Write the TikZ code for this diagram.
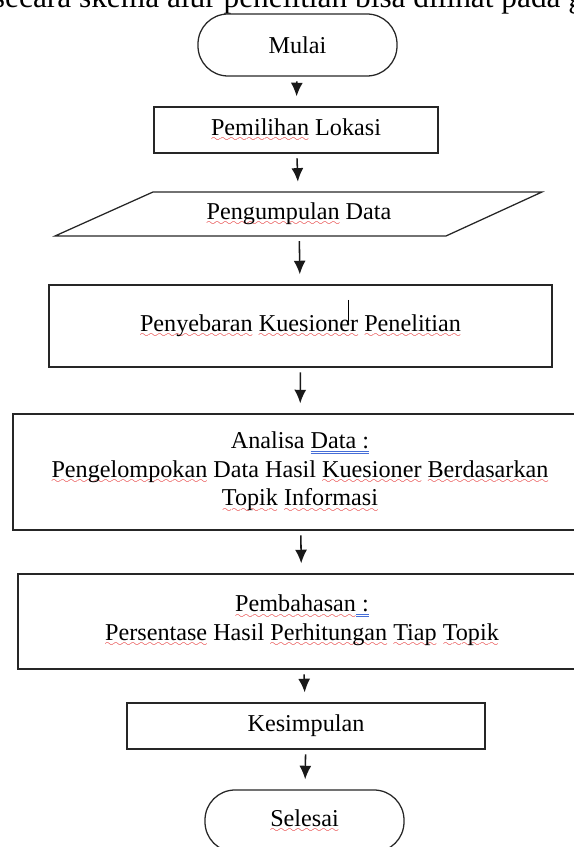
\documentclass[tikz,border=0pt]{standalone}
\usepackage{fontspec}
\setmainfont{Liberation Serif}
\usepackage{xcolor}
\usetikzlibrary{calc}
\usetikzlibrary{arrows.meta}

\definecolor{sqred}{RGB}{225,25,25}
\definecolor{sqblue}{RGB}{70,110,215}

\font\sqfont=lasy6 at 7pt
\newcommand\redsq[1]{\setbox0\hbox{#1}\leavevmode\rlap{\lower4.6pt\hbox to\wd0{\color{sqred}\xleaders\hbox{\sqfont\char58}\hfill}}\box0\relax}
\newcommand\bluesq[1]{\setbox0\hbox{#1}\leavevmode\rlap{\color{sqblue}\lower2.2pt\hbox{\vrule width\wd0 height0.6pt depth0pt}}\rlap{\color{sqblue}\lower3.8pt\hbox{\vrule width\wd0 height0.6pt depth0pt}}\box0\relax}

\begin{document}
\begin{tikzpicture}[
  txt/.style={font=\fontsize{17.2}{20.3}\selectfont, align=center},
  box/.style={txt, draw=black!85, line width=0.9pt, minimum height=1.15cm, inner sep=2pt},
  term/.style={box, rounded corners=0.75cm, minimum width=4.975cm, minimum height=1.55cm},
  arr/.style={-{Latex[length=3.4mm,width=3mm]}, line width=1.1pt, black!90, shorten <=0.12cm, shorten >=0.25cm}
]
\useasboundingbox (0,0) rectangle (14.35,21.175);

\node[anchor=base west, font=\fontsize{22.3}{26}\selectfont] (intro) at (-0.3,20.975) {secara skema alur penelitian bisa dilihat pada g};

\node[term] (mulai) at (7.4375,20.05) {Mulai};
\node[box, minimum width=7.1cm] (lokasi) at (7.4,17.925) {\redsq{Pemilihan} Lokasi};

\draw[line width=0.9pt, black!85] (3.825,16.375) -- (13.55,16.375) -- (11.15,15.275) -- (1.375,15.275) -- cycle;
\node[txt, minimum width=7cm, minimum height=1.1cm] (data) at (7.475,15.825) {\redsq{Pengumpulan} Data};

\node[box, minimum width=12.575cm, minimum height=2.05cm] (sebar) at (7.5125,13.025) {\redsq{Penyebaran} \redsq{Kuesioner} \redsq{Penelitian}};
\draw[line width=0.7pt] (8.7,13.675) -- (8.7,13.125);

\node[box, minimum width=14.35cm, minimum height=2.9cm] (analisa) at (7.5,9.375) {Analisa \bluesq{Data :}\\ \redsq{Pengelompokan} Data Hasil \redsq{Kuesioner} \redsq{Berdasarkan}\\ \redsq{Topik} \redsq{Informasi}};

\node[box, minimum width=14.2cm, minimum height=2.375cm, text depth=0.2cm] (bahas) at (7.55,5.6375) {\redsq{Pembahasan}\bluesq{ :}\\ \redsq{Persentase} Hasil \redsq{Perhitungan} \redsq{Tiap} \redsq{Topik}};

\node[box, minimum width=8.95cm] (simpul) at (7.65,3.025) {Kesimpulan};
\node[term] (selesai) at (7.6125,0.65) {\redsq{Selesai}};

\draw[arr] (mulai) -- (lokasi);
\draw[arr] (lokasi) -- (data);
\draw[arr] (data) -- (sebar);
\draw[arr] (sebar) -- (analisa);
\draw[arr] (analisa) -- (bahas);
\draw[arr] (bahas) -- (simpul);
\draw[arr] (simpul) -- (selesai);
\end{tikzpicture}
\end{document}
